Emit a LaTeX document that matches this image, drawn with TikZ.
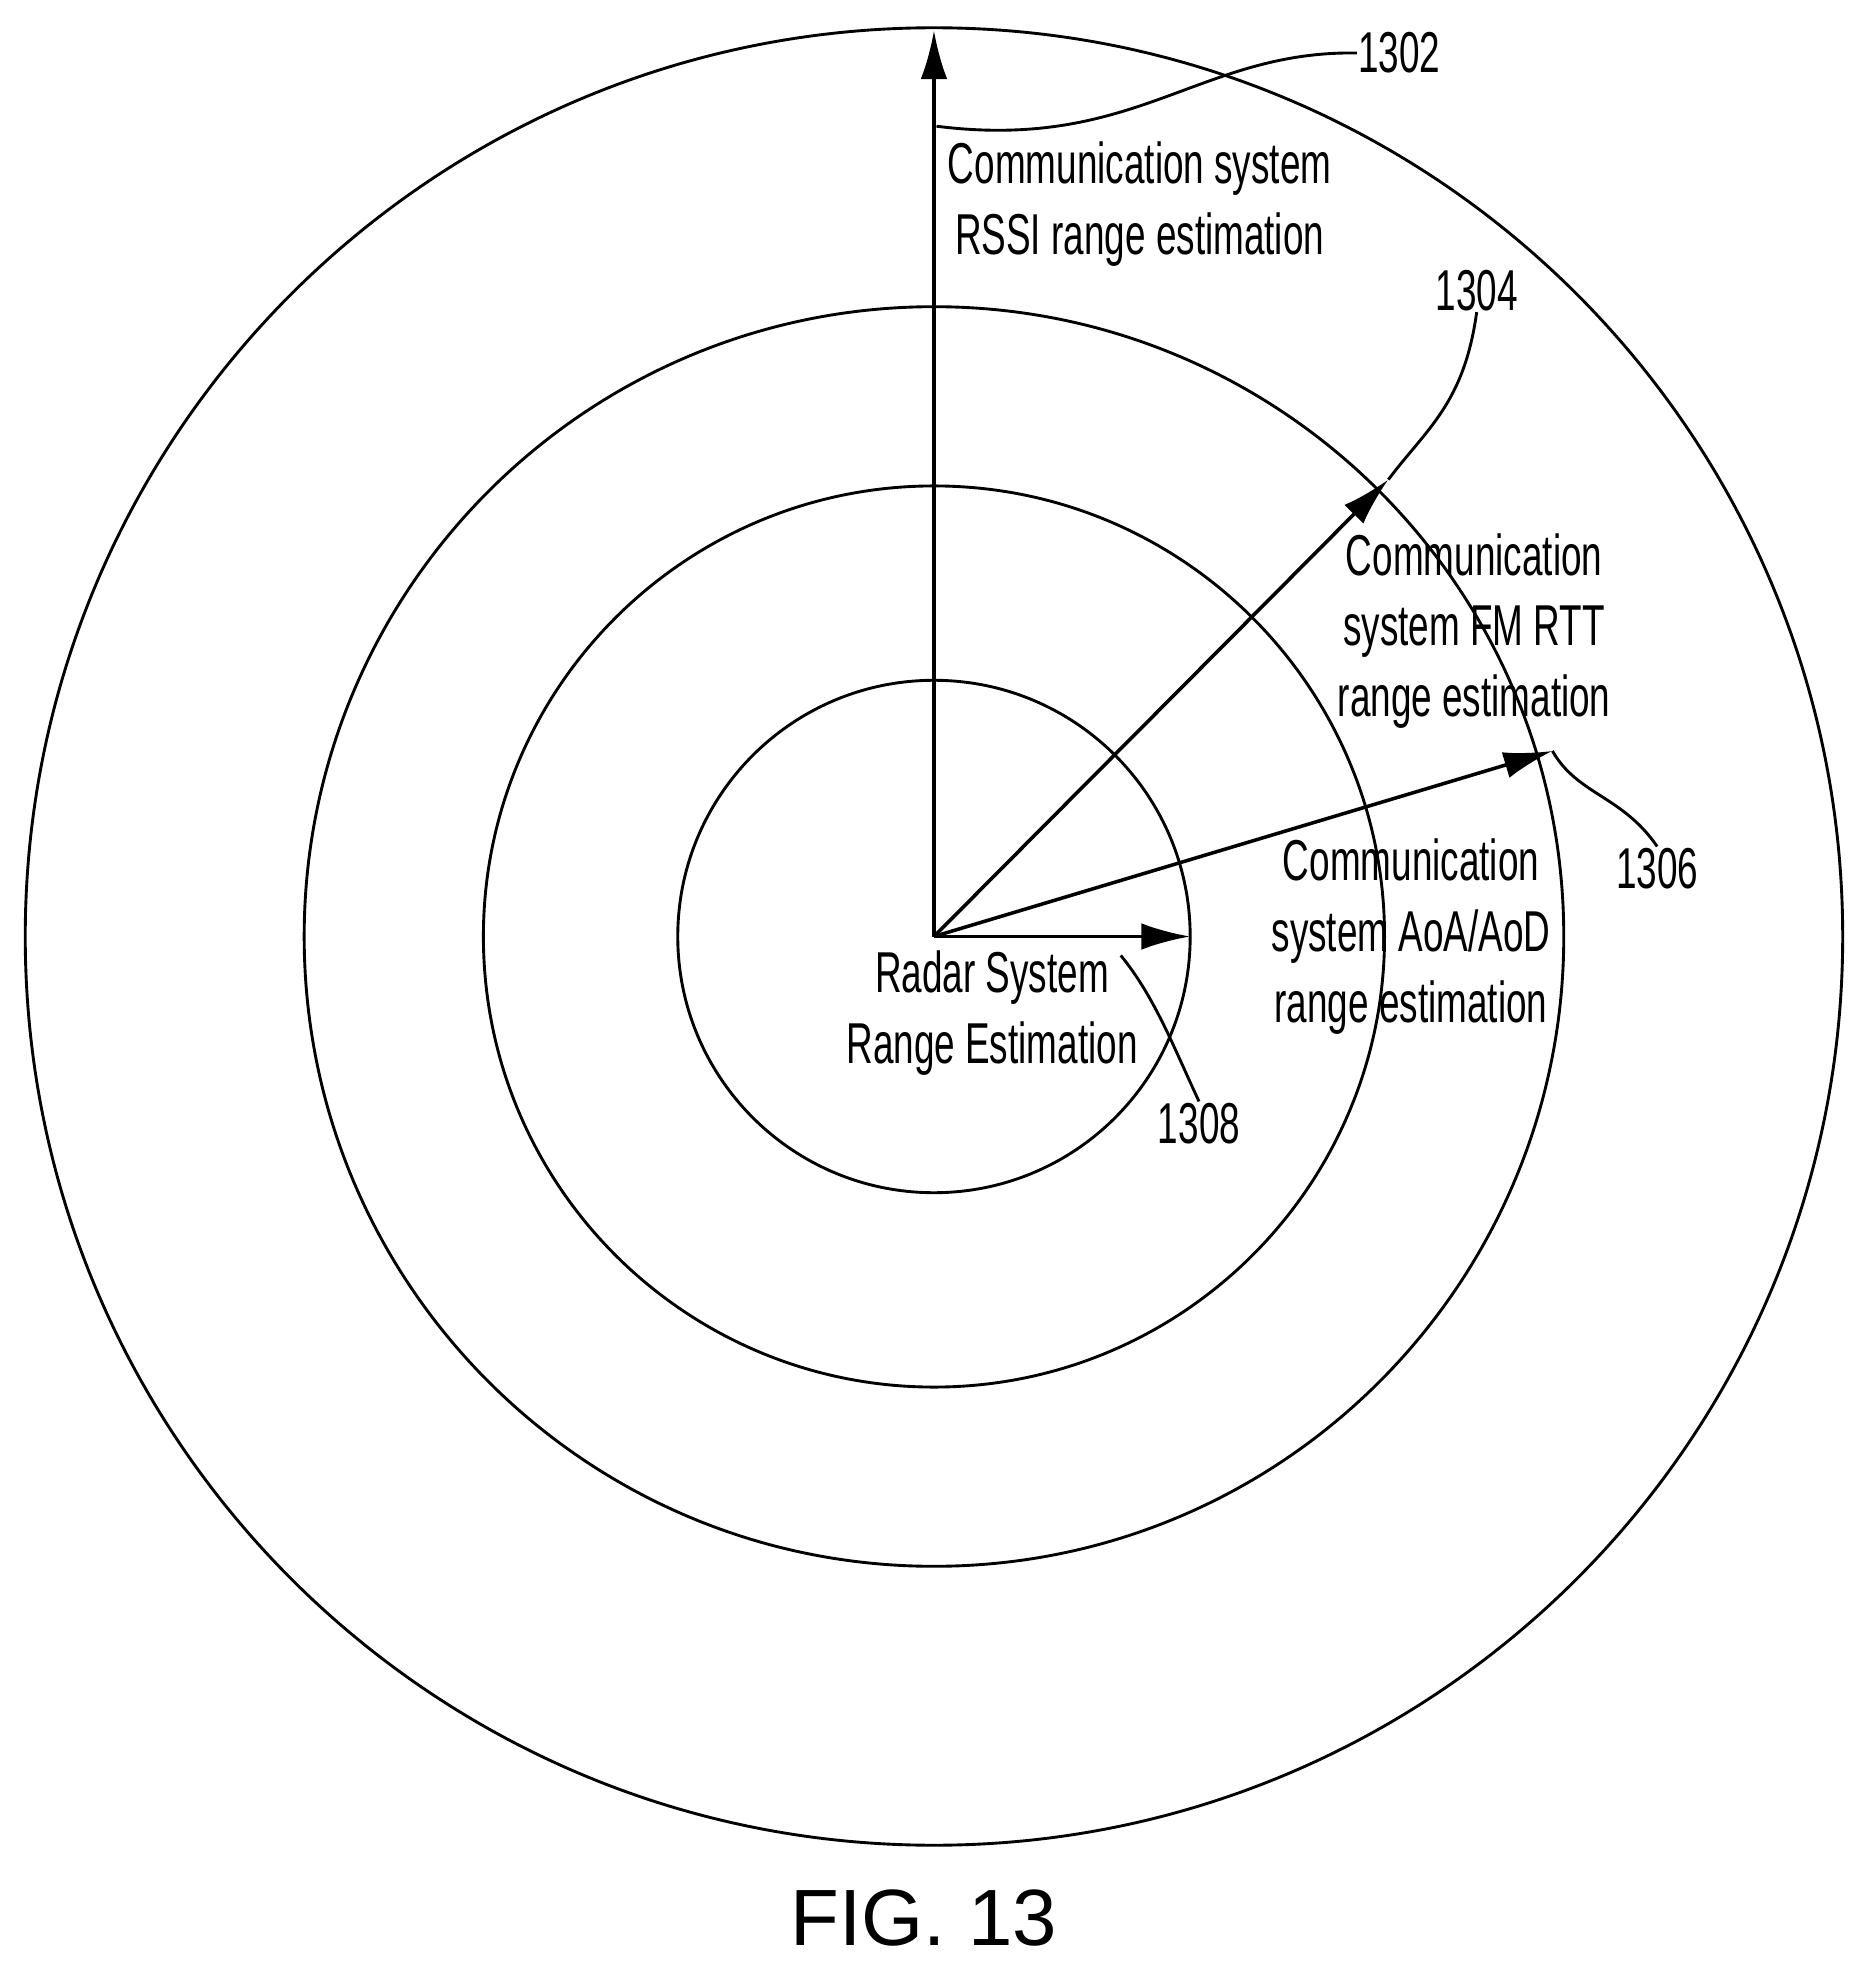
\documentclass[tikz,border=0pt]{standalone}
\usepackage{fontspec}
\setmainfont{Liberation Sans}
\newfontfamily\condfont[FakeStretch=0.64]{Liberation Sans}
\usetikzlibrary{arrows.meta}
\tikzset{
  lbl/.style={align=center,font=\condfont\fontsize{26}{32}\selectfont,inner sep=0pt},
  num/.style={font=\condfont\fontsize{26}{32}\selectfont,inner sep=0pt},
  rng/.style={-{Latex[length=22pt,width=12pt]},line width=1.6pt},
  lead/.style={line width=1.3pt}
}
\begin{document}
\begin{tikzpicture}[x=0.02cm,y=-0.02cm,line width=1.3pt]
    \useasboundingbox (0,0) rectangle (1480,1568);
    \coordinate (o) at (740,742);
    \draw (o) circle[radius=203];
    \draw (o) circle[radius=357];
    \draw (o) circle[radius=499];
    \draw (o) circle[radius=720];

    \coordinate (t2) at (740,24);
    \coordinate (t4) at (1100,380);
    \coordinate (t6) at (1230,595);
    \coordinate (t8) at (943,742);
    \draw[rng] (o) -- (t2);
    \draw[rng] (o) -- (t4);
    \draw[rng] (o) -- (t6);
    \draw[rng] (o) -- (t8);

    \node[lbl] (rssi) at (903,162) {Communication system\\RSSI range estimation};
    \node[lbl] (fm) at (1168,500) {Communication\\system FM RTT\\range estimation};
    \node[lbl] (aoa) at (1118,742) {Communication\\system AoA/AoD\\range estimation};
    \node[lbl] (radar) at (786,803) {Radar System\\Range Estimation};

    \node[num,anchor=west] (n2) at (1075,42) {1302};
    \node[num] (n4) at (1170,230) {1304};
    \node[num] (n6) at (1313,688) {1306};
    \node[num] (n8) at (950,890) {1308};

    \draw[lead] (742,100) .. controls (900,120) and (950,40) .. (n2.west);
    \draw[lead] (t4) .. controls (1130,340) and (1160,320) .. (n4.south);
    \draw[lead] (t6) .. controls (1250,630) and (1285,630) .. (n6.north);
    \draw[lead] (888,757) .. controls (915,790) and (930,830) .. (n8.north);

    \node[font=\fontsize{36}{42}\selectfont,inner sep=0pt] (fig) at (732,1520) {FIG. 13};
\end{tikzpicture}
\end{document}
